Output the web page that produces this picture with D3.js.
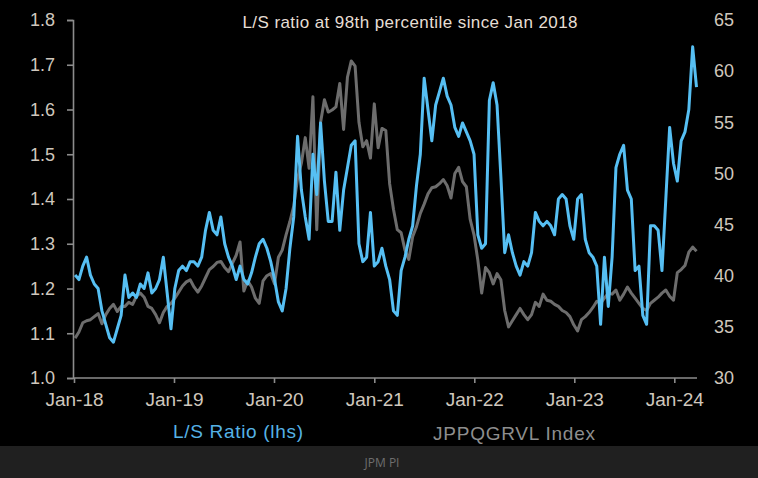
<!DOCTYPE html>
<html>
<head>
<meta charset="utf-8">
<script src="https://cdn.jsdelivr.net/npm/d3@7"></script>
<style>
  html, body { margin: 0; padding: 0; background: #202020; }
  svg { display: block; }
</style>
</head>
<body>
<svg id="chart" width="758" height="478"></svg>
<script>
// ---- data ----
const title = "L/S ratio at 98th percentile since Jan 2018";
const seriesNames = ["L/S Ratio (lhs)", "JPPQGRVL Index"];
const footerText = "JPM PI";
const startDate = new Date(2018, 0, 5);   // first observation
const stepDays = 14;                       // bi-weekly observations

const lsRatio = [
  1.23,1.22,1.25,1.27,1.23,1.21,1.20,1.15,1.12,1.09,
  1.08,1.11,1.14,1.23,1.18,1.19,1.18,1.21,1.20,1.235,
  1.19,1.20,1.22,1.27,1.19,1.11,1.20,1.24,1.25,1.24,
  1.26,1.26,1.25,1.27,1.33,1.37,1.33,1.32,1.36,1.30,
  1.27,1.25,1.22,1.25,1.22,1.21,1.235,1.27,1.30,1.31,
  1.29,1.26,1.22,1.17,1.15,1.20,1.29,1.36,1.54,1.42,
  1.36,1.31,1.50,1.41,1.57,1.44,1.35,1.35,1.46,1.33,
  1.42,1.47,1.52,1.53,1.30,1.26,1.27,1.37,1.25,1.26,
  1.29,1.25,1.22,1.15,1.14,1.24,1.27,1.31,1.34,1.43,
  1.50,1.67,1.60,1.53,1.61,1.64,1.67,1.63,1.61,1.56,
  1.54,1.57,1.55,1.53,1.50,1.32,1.29,1.30,1.62,1.66,
  1.61,1.45,1.28,1.32,1.28,1.25,1.23,1.26,1.25,1.28,
  1.37,1.35,1.34,1.35,1.34,1.32,1.40,1.41,1.40,1.34,
  1.31,1.40,1.41,1.31,1.28,1.27,1.25,1.12,1.27,1.16,
  1.27,1.47,1.50,1.52,1.42,1.40,1.24,1.25,1.14,1.12,
  1.34,1.34,1.33,1.24,1.40,1.56,1.48,1.44,1.53,1.55,
  1.60,1.74,1.65
];

const jppqgrvl = [
  33.9,34.5,35.4,35.6,35.7,36.0,36.3,35.3,36.2,36.8,
  37.2,36.5,37.0,37.0,37.4,37.2,38.0,38.3,37.9,37.0,
  36.8,36.2,35.4,36.4,37.0,37.3,37.8,38.4,39.0,39.4,
  39.6,38.9,38.4,39.0,39.8,40.6,40.9,41.3,41.4,40.8,
  40.4,41.2,42.0,43.3,38.5,39.5,38.9,37.8,37.3,39.5,
  40.0,40.2,39.2,41.8,42.5,44.0,45.3,46.8,49.5,51.0,
  53.5,50.5,57.5,44.5,55.0,57.2,56.0,56.2,56.5,58.8,
  54.3,59.4,61.0,60.5,55.0,52.6,53.2,51.5,56.8,52.5,
  54.4,54.2,49.0,46.5,44.5,44.2,42.5,41.6,43.8,44.8,
  46.1,47.0,48.0,48.6,48.7,49.0,49.4,48.8,47.6,50.0,
  50.6,49.2,48.7,45.5,44.0,41.5,38.3,40.8,40.3,39.2,
  40.2,39.6,36.6,35.0,35.6,36.2,36.8,36.2,35.7,36.2,
  37.4,37.0,38.2,37.6,37.5,37.2,37.0,36.6,36.4,36.0,
  35.2,34.6,35.7,36.0,36.4,36.9,37.5,37.3,37.8,38.3,
  38.2,38.6,37.6,38.2,38.9,38.3,37.8,37.3,36.8,36.6,
  37.3,37.6,37.9,38.3,38.6,38.0,37.6,40.3,40.6,41.0,
  42.3,42.8,42.4
];

const leftTicks = [1.0, 1.1, 1.2, 1.3, 1.4, 1.5, 1.6, 1.7, 1.8];
const rightTicks = [30, 35, 40, 45, 50, 55, 60, 65];
const xTickYears = [2018, 2019, 2020, 2021, 2022, 2023, 2024];

// ---- drawing ----
const svg = d3.select("#chart");
const W = 758, H = 478, plotBottomBg = 446;

svg.append("rect").attr("x", 0).attr("y", 0).attr("width", W).attr("height", H).attr("fill", "#202020");
svg.append("rect").attr("x", 0).attr("y", 0).attr("width", W).attr("height", plotBottomBg).attr("fill", "#000");

const dates = lsRatio.map((_, i) => d3.timeDay.offset(startDate, stepDays * i));

const x = d3.scaleTime()
  .domain([new Date(2018, 0, 1), dates[dates.length - 1]])
  .range([74, 696.5]);
const yL = d3.scaleLinear().domain([1.0, 1.8]).range([378, 20]);
const yR = d3.scaleLinear().domain([30, 65]).range([378, 20]);

const labelColor = "#cfc7bd";
const axisColor = "#8c8c8c";
const fontFam = "'Liberation Sans', Arial, sans-serif";

// left axis
const gL = svg.append("g").attr("transform", "translate(73,0)")
  .call(d3.axisLeft(yL).tickValues(leftTicks).tickFormat(d3.format(".1f")).tickSize(6).tickPadding(12));
// bottom axis
const gB = svg.append("g").attr("transform", "translate(0,378)")
  .call(d3.axisBottom(x).tickValues(xTickYears.map(y => new Date(y, 0, 1)))
    .tickFormat(d3.timeFormat("%b-%y")).tickSize(5).tickPadding(10));
// right axis (labels only)
const gR = svg.append("g").attr("transform", "translate(706,0)")
  .call(d3.axisRight(yR).tickValues(rightTicks).tickSize(0).tickPadding(8));
gR.select(".domain").remove();

[gL, gB, gR].forEach(g => {
  g.selectAll(".domain").attr("stroke", axisColor).attr("stroke-width", 1.6);
  g.selectAll(".tick line").attr("stroke", axisColor).attr("stroke-width", 1.6);
  g.selectAll(".tick text").attr("fill", labelColor).attr("font-family", fontFam).attr("font-size", 18);
});
gB.selectAll(".tick text").attr("font-size", 19);
// extend bottom domain to left axis
gB.select(".domain").attr("d", `M73,0H697`);

// lines
const lineG = d3.line().x((d, i) => x(dates[i])).y(d => yR(d));
const lineB = d3.line().x((d, i) => x(dates[i])).y(d => yL(d));

svg.append("path").datum(jppqgrvl).attr("d", lineG)
  .attr("fill", "none").attr("stroke", "#6d6d6d").attr("stroke-width", 3).attr("stroke-linejoin", "round");
svg.append("path").datum(lsRatio).attr("d", lineB)
  .attr("fill", "none").attr("stroke", "#56bff3").attr("stroke-width", 3).attr("stroke-linejoin", "round");

// title
svg.append("text").attr("x", 410).attr("y", 28).attr("text-anchor", "middle")
  .attr("fill", "#e6ded4").attr("font-family", fontFam).attr("font-size", 17)
  .attr("textLength", 335).attr("lengthAdjust", "spacing").text(title);

// legend labels
svg.append("text").attr("x", 173).attr("y", 438)
  .attr("fill", "#55b2e6").attr("font-family", fontFam).attr("font-size", 19)
  .attr("textLength", 130).attr("lengthAdjust", "spacing").text(seriesNames[0]);
svg.append("text").attr("x", 433).attr("y", 440)
  .attr("fill", "#8e8e8e").attr("font-family", fontFam).attr("font-size", 19)
  .attr("textLength", 162).attr("lengthAdjust", "spacing").text(seriesNames[1]);

// footer
svg.append("text").attr("x", 382).attr("y", 467).attr("text-anchor", "middle")
  .attr("fill", "#6e6e6e").attr("font-family", "'Open Sans', sans-serif").attr("font-size", 12)
  .text(footerText);
</script>
</body>
</html>
